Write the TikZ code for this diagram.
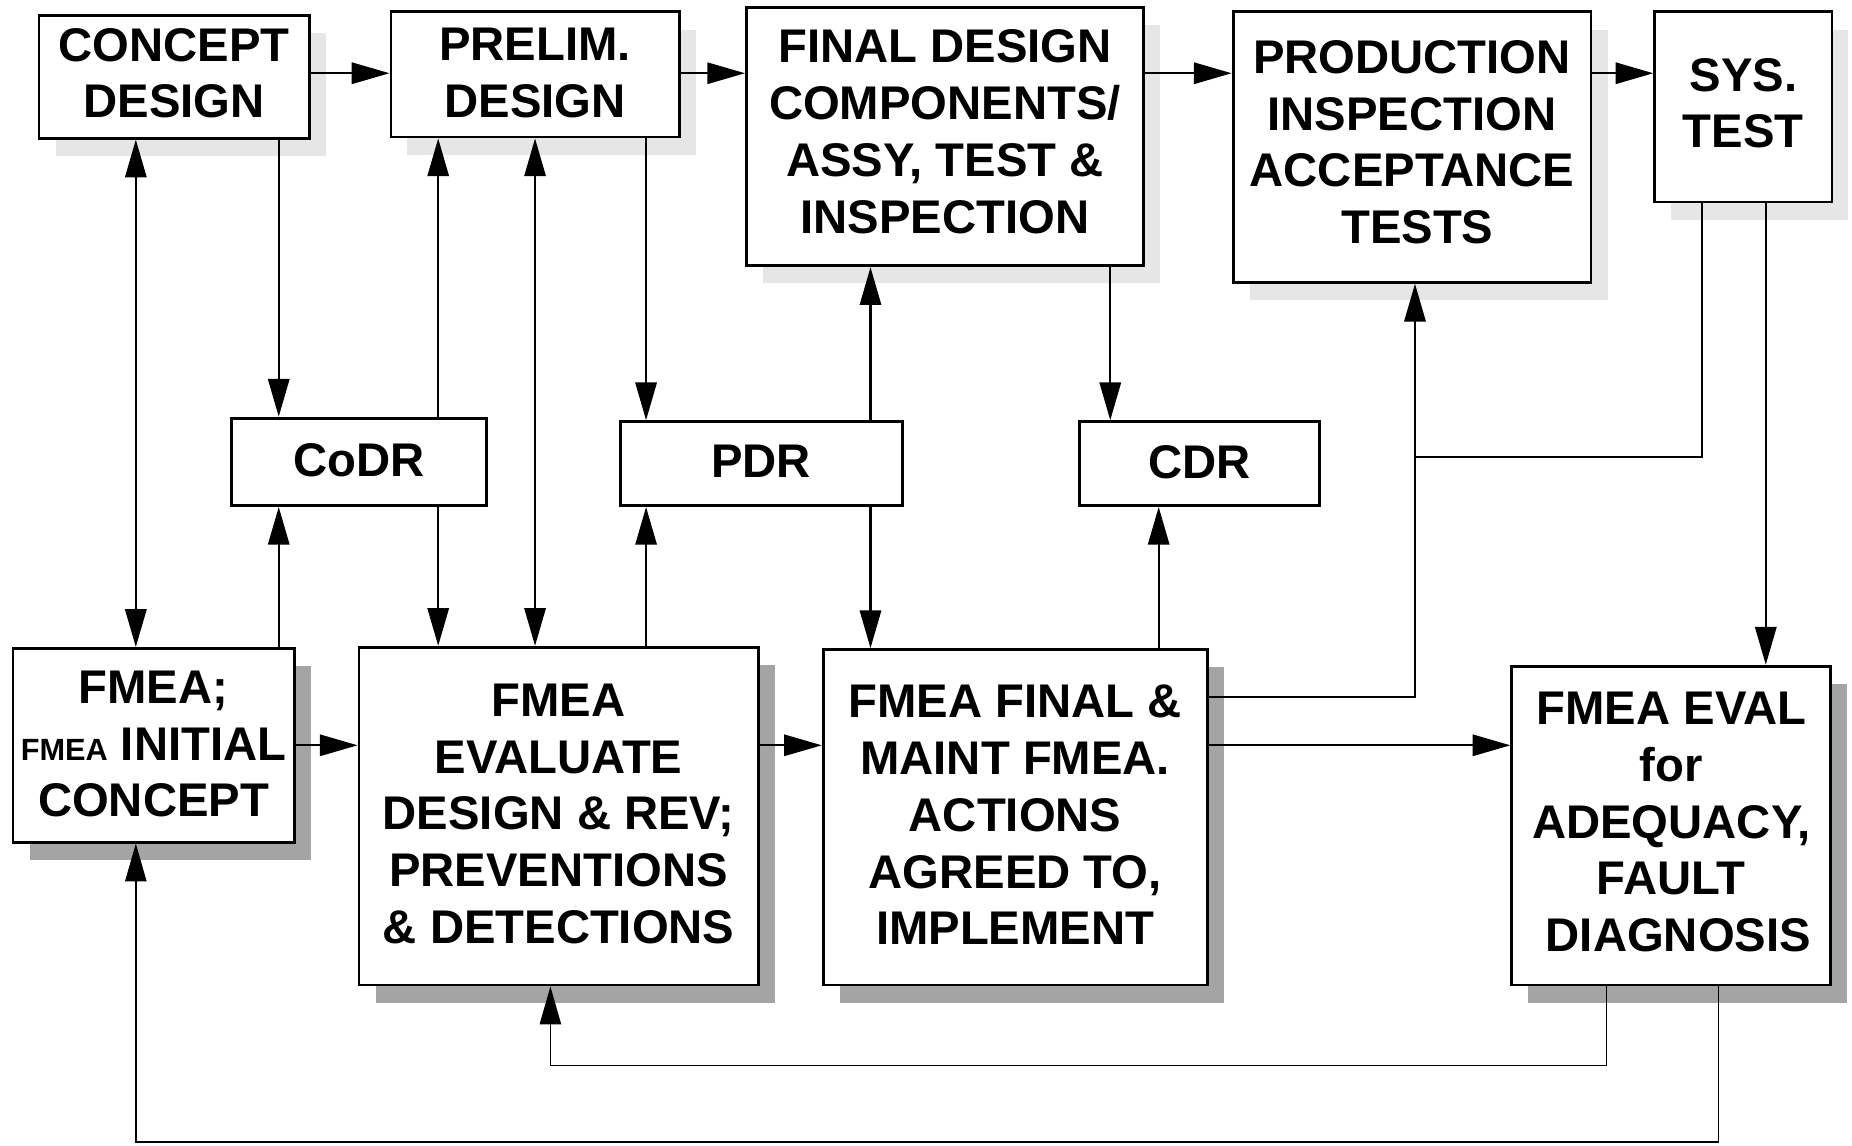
\documentclass[tikz,border=0pt]{standalone}
\usepackage{fontspec}
\setmainfont{Liberation Sans}
\usetikzlibrary{arrows.meta,shadows}
\definecolor{shlight}{HTML}{E6E6E6}
\definecolor{shdark}{HTML}{A4A4A4}
\begin{document}
\begin{tikzpicture}[x=1pt,y=-1pt,
  box/.style={draw, line width=2.4pt, fill=white, inner sep=0pt},
  txt/.style={align=center, inner sep=0pt, font=\bfseries\fontsize{40pt}{48pt}\selectfont},
  topbox/.style={box, drop shadow={shadow xshift=14pt, shadow yshift=-15pt, fill=shlight, opacity=1}},
  botbox/.style={box, drop shadow={shadow xshift=14pt, shadow yshift=-15pt, fill=shdark, opacity=1}},
  revbox/.style={box},
  arr/.style={line width=2pt, -{Triangle[length=32pt,width=18pt]}},
  darr/.style={line width=2pt, {Triangle[length=32pt,width=18pt]}-{Triangle[length=32pt,width=18pt]}},
  link/.style={line width=2pt},
  fb/.style={line width=1.4pt}]
\useasboundingbox (0,0) rectangle (1568,970);

% top row
\node[topbox, minimum width=229pt, minimum height=104pt] (cd) at (147.5,65) {};
\node[txt] (cdt) at ([yshift=3pt]cd.center) {CONCEPT\\DESIGN};
\node[topbox, minimum width=244pt, minimum height=106pt] (pd) at (453,63) {};
\node[txt] (pdt) at ([yshift=1pt]pd.center) {PRELIM.\\DESIGN};
\node[topbox, minimum width=336pt, minimum height=219pt] (fd) at (800,115.5) {};
\node[txt] (fdt) at ([yshift=4pt]fd.center) {FINAL DESIGN\\COMPONENTS/\\ASSY, TEST \&\\INSPECTION};
\node[topbox, minimum width=303pt, minimum height=229pt] (pr) at (1195.5,124.5) {};
\node[txt] (prt) at ([yshift=4pt]pr.center) {PRODUCTION\\INSPECTION\\ACCEPTANCE\\\hspace*{9pt}TESTS};
\node[topbox, minimum width=150pt, minimum height=161pt] (st) at (1476,90.5) {};
\node[txt] (stt) at ([yshift=3pt]st.center) {SYS.\\TEST};

% review row
\node[revbox, minimum width=216pt, minimum height=74pt] (codr) at (304,391) {};
\node[txt] (codrt) at ([yshift=1pt]codr.center) {CoDR};
\node[revbox, minimum width=239pt, minimum height=71pt] (pdr) at (644.5,392.5) {};
\node[txt] (pdrt) at ([yshift=2pt]pdr.center) {PDR};
\node[revbox, minimum width=203pt, minimum height=71pt] (cdr) at (1015.5,392.5) {};
\node[txt] (cdrt) at ([yshift=1pt]cdr.center) {CDR};

% FMEA row
\node[botbox, minimum width=238pt, minimum height=164pt] (fi) at (130,631) {};
\node[txt] (fit) at ([yshift=1pt]fi.center) {FMEA;\\{\fontsize{26pt}{48pt}\selectfont FMEA} INITIAL\\CONCEPT};
\node[botbox, minimum width=338pt, minimum height=286pt] (fe) at (473,691) {};
\node[txt] (fet) at ([yshift=2pt]fe.center) {FMEA\\EVALUATE\\DESIGN \& REV;\\PREVENTIONS\\\& DETECTIONS};
\node[botbox, minimum width=325pt, minimum height=284pt] (ff) at (859.5,692) {};
\node[txt] (fft) at ([yshift=2pt]ff.center) {FMEA FINAL \&\\MAINT FMEA.\\ACTIONS\\AGREED TO,\\IMPLEMENT};
\node[botbox, minimum width=270pt, minimum height=270pt] (fv) at (1415,699) {};
\node[txt] (fvt) at ([yshift=3pt]fv.center) {FMEA EVAL\\for\\ADEQUACY,\\FAULT\\\hspace*{12pt}DIAGNOSIS};

% top row flow
\draw[arr] (cd.east |- 0,62) -- (pd.west |- 0,62);
\draw[arr] (pd.east |- 0,62) -- (fd.west |- 0,62);
\draw[arr] (fd.east |- 0,62) -- (pr.west |- 0,62);
\draw[arr] (pr.east |- 0,62) -- (st.west |- 0,62);

% verticals
\draw[darr] (cd.south -| 115,0) -- (fi.north -| 115,0);
\draw[arr] (cd.south -| 236,0) -- (codr.north -| 236,0);
\draw[arr] (codr.north -| 371,0) -- (pd.south -| 371,0);
\draw[darr] (pd.south -| 453,0) -- (fe.north -| 453,0);
\draw[arr] (pd.south -| 547,0) -- (pdr.north -| 547,0);
\draw[arr] (pdr.north -| 737,0) -- (fd.south -| 737,0);
\draw[arr] (fd.south -| 940,0) -- (cdr.north -| 940,0);
\draw[arr] (codr.south -| 371,0) -- (fe.north -| 371,0);
\draw[arr] (fi.north -| 236,0) -- (codr.south -| 236,0);
\draw[arr] (fe.north -| 547,0) -- (pdr.south -| 547,0);
\draw[arr] (pdr.south -| 737,0) -- (ff.north -| 737,0);
\draw[arr] (ff.north -| 981,0) -- (cdr.south -| 981,0);

% bottom row flow
\draw[arr] (fi.east |- 0,631) -- (fe.west |- 0,631);
\draw[arr] (fe.east |- 0,631) -- (ff.west |- 0,631);
\draw[arr] (ff.east |- 0,631) -- (fv.west |- 0,631);

% right side links
\coordinate (j1) at (1198,590);
\coordinate (j2) at (1198,387);
\draw[arr] (ff.east |- j1) -- (j1) -- (pr.south -| j1);
\draw[link] (st.south -| 1441,0) |- (j2);
\draw[arr] (st.south -| 1495,0) -- (fv.north -| 1495,0);

% feedback loops
\coordinate (k1) at (466,902);
\coordinate (k2) at (115,967);
\draw[arr,fb] (fv.south -| 1360,0) |- (k1) -- (fe.south -| k1);
\draw[arr,fb] (fv.south -| 1455,0) |- (k2) -- (fi.south -| k2);
\end{tikzpicture}
\end{document}
